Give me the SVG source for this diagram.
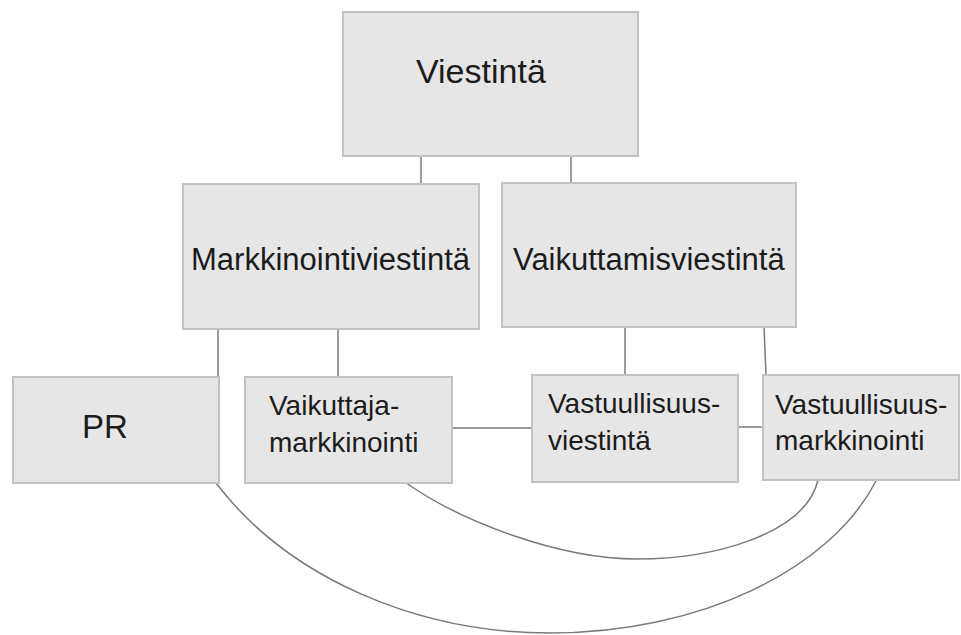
<svg xmlns="http://www.w3.org/2000/svg" width="961" height="635" viewBox="0 0 961 635">
<style>
.box{fill:#e6e6e6;stroke:#c2c2c2;stroke-width:2}
.t{font-family:"Liberation Sans",Arial,sans-serif;fill:#1c1c1c}
.c{fill:none;stroke:#7a7a7a;stroke-width:1.5}
</style>
<rect width="961" height="635" fill="#ffffff"/>
<g id="connectors">
<line class="c" x1="421" y1="156" x2="421" y2="184"/>
<line class="c" x1="571" y1="156" x2="571" y2="183"/>
<line class="c" x1="218" y1="329" x2="218" y2="377"/>
<line class="c" x1="338" y1="329" x2="338" y2="377"/>
<line class="c" x1="625" y1="327" x2="625" y2="375"/>
<line class="c" x1="764" y1="327" x2="766" y2="375"/>
<line class="c" x1="452" y1="428" x2="532" y2="428"/>
<line class="c" x1="738" y1="427" x2="763" y2="427"/>
<path class="c" d="M402,480 C460,522 560,559 637,559 C712,559 805,535 818,480"/>
<path class="c" d="M216,483 C290,580 420,633 550,633 C700,633 830,570 876,481"/>
</g>
<g id="viestinta">
<rect class="box" x="343" y="12" width="295" height="144"/>
<text class="t" x="416" y="83" font-size="34">Viestintä</text>
</g>
<g id="markkinointiviestinta">
<rect class="box" x="183" y="184" width="296" height="145"/>
<text class="t" x="191" y="270" font-size="31">Markkinointiviestintä</text>
</g>
<g id="vaikuttamisviestinta">
<rect class="box" x="502" y="183" width="294" height="144"/>
<text class="t" x="513" y="270" font-size="31">Vaikuttamisviestintä</text>
</g>
<g id="pr">
<rect class="box" x="13" y="377" width="206" height="106"/>
<text class="t" x="82" y="438" font-size="33">PR</text>
</g>
<g id="vaikuttajamarkkinointi">
<rect class="box" x="245" y="377" width="207" height="106"/>
<text class="t" font-size="28"><tspan x="269" y="415">Vaikuttaja-</tspan><tspan x="269" y="452">markkinointi</tspan></text>
</g>
<g id="vastuullisuusviestinta">
<rect class="box" x="532" y="375" width="206" height="107"/>
<text class="t" font-size="28"><tspan x="548" y="413">Vastuullisuus-</tspan><tspan x="548" y="450">viestintä</tspan></text>
</g>
<g id="vastuullisuusmarkkinointi">
<rect class="box" x="763" y="375" width="196" height="105"/>
<text class="t" font-size="28"><tspan x="775" y="414">Vastuullisuus-</tspan><tspan x="775" y="450">markkinointi</tspan></text>
</g>
</svg>
